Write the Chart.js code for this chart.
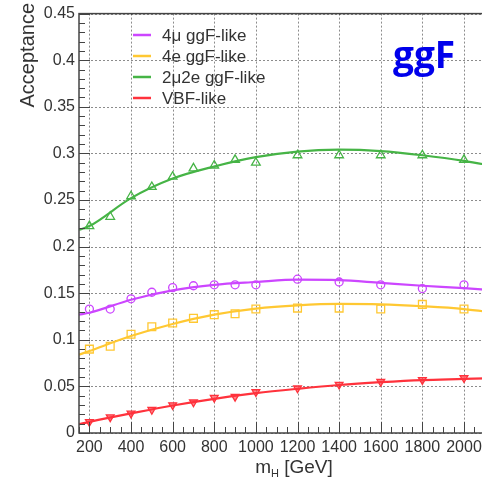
<!DOCTYPE html>
<html>
<head>
<meta charset="utf-8">
<script src="https://cdn.jsdelivr.net/npm/chart.js@4.4.1/dist/chart.umd.min.js"></script>
<style>
  html, body { margin: 0; padding: 0; background: #fff; overflow: hidden; }
  #wrap { position: relative; width: 482px; height: 479px; overflow: hidden; }
  #wrap canvas { position: absolute; left: 0; top: 0; }
</style>
</head>
<body>
<div id="wrap"><canvas id="acceptance-chart" width="502" height="479"></canvas></div>
<script>
// Masas simuladas (GeV) y aceptancia de cada canal
const masas = [200, 300, 400, 500, 600, 700, 800, 900, 1000, 1200, 1400, 1600, 1800, 2000];
const acc4mu = [0.133, 0.133, 0.144, 0.151, 0.156, 0.158, 0.159, 0.159, 0.159, 0.165, 0.162, 0.159, 0.155, 0.159];
const acc4e = [0.090, 0.093, 0.106, 0.114, 0.118, 0.123, 0.127, 0.128, 0.133, 0.134, 0.134, 0.133, 0.138, 0.133];
const acc2mu2e = [0.222, 0.232, 0.254, 0.264, 0.275, 0.284, 0.287, 0.293, 0.290, 0.298, 0.298, 0.298, 0.298, 0.293];
const accVBF = [0.012, 0.017, 0.021, 0.025, 0.030, 0.033, 0.038, 0.039, 0.044, 0.048, 0.052, 0.055, 0.057, 0.059];

// Curvas de ajuste
const masasAjuste = [150, 200, 400, 600, 800, 1000, 1200, 1400, 1600, 1800, 2000, 2150];
const ajuste4mu = [0.127, 0.129, 0.143, 0.153, 0.159, 0.162, 0.1645, 0.164, 0.161, 0.158, 0.1555, 0.153];
const ajuste4e = [0.084, 0.088, 0.104, 0.117, 0.127, 0.1335, 0.137, 0.1385, 0.138, 0.136, 0.133, 0.129];
const ajuste2mu2e = [0.218, 0.222, 0.252, 0.273, 0.286, 0.296, 0.302, 0.304, 0.3025, 0.298, 0.292, 0.286];
const ajusteVBF = [0.0095, 0.012, 0.021, 0.0295, 0.0367, 0.0427, 0.0474, 0.0515, 0.0545, 0.0568, 0.058, 0.059];

// Marcas de los ejes
const xTicks = [200, 400, 600, 800, 1000, 1200, 1400, 1600, 1800, 2000];
const yTicks = [0, 0.05, 0.1, 0.15, 0.2, 0.25, 0.3, 0.35, 0.4, 0.45];

const etiquetas = ["4μ ggF-like", "4e ggF-like", "2μ2e ggF-like", "VBF-like"];

const FUENTE = "'Liberation Sans', Arial, Helvetica, sans-serif";
const TEXTO = "#333";

const canales = [
  { label: etiquetas[0], color: "rgb(204,70,255)", puntos: acc4mu, ajuste: ajuste4mu, marker: "circle", rot: 0, fill: "rgba(0,0,0,0)", r: 4 },
  { label: etiquetas[1], color: "rgb(255,200,50)", puntos: acc4e, ajuste: ajuste4e, marker: "rect", rot: 0, fill: "rgba(0,0,0,0)", r: 5.5 },
  { label: etiquetas[2], color: "rgb(70,180,70)", puntos: acc2mu2e, ajuste: ajuste2mu2e, marker: "triangle", rot: 0, fill: "rgba(0,0,0,0)", r: 5 },
  { label: etiquetas[3], color: "rgb(255,50,60)", puntos: accVBF, ajuste: ajusteVBF, marker: "triangle", rot: 180, fill: "rgba(255,50,60,0.6)", r: 4.5 },
];

const toXY = (xs, ys) => xs.map((x, i) => ({ x, y: ys[i] }));

const datasets = canales.flatMap((c) => [
  {
    label: c.label,
    data: toXY(masas, c.puntos),
    showLine: false,
    pointStyle: c.marker,
    rotation: c.rot,
    pointRadius: c.r,
    pointBorderWidth: 1.3,
    borderColor: c.color,
    backgroundColor: c.fill,
  },
  {
    label: c.label,
    esAjuste: true,
    data: toXY(masasAjuste, c.ajuste),
    showLine: true,
    pointRadius: 0,
    borderColor: c.color,
    borderWidth: 2.2,
    cubicInterpolationMode: "monotone",
    fill: false,
  },
]);

/**
 * Rejilla punteada en las marcas principales
 */
const rejilla = {
  id: "rejilla",
  beforeDatasetsDraw(chart) {
    const { ctx, chartArea: a, scales } = chart;
    ctx.save();
    ctx.strokeStyle = "rgba(0,0,0,0.45)";
    ctx.lineWidth = 1;
    ctx.setLineDash([2, 2]);
    ctx.beginPath();
    xTicks.forEach((v) => {
      const px = Math.round(scales.x.getPixelForValue(v)) + 0.5;
      ctx.moveTo(px, a.top);
      ctx.lineTo(px, a.bottom);
    });
    yTicks.forEach((v) => {
      const py = Math.round(scales.y.getPixelForValue(v)) + 0.5;
      ctx.moveTo(a.left, py);
      ctx.lineTo(a.right, py);
    });
    ctx.stroke();
    ctx.restore();
  },
};

/**
 * Marco, marcas menores hacia dentro, leyenda y títulos al estilo ROOT
 */
const estiloRoot = {
  id: "estiloRoot",
  afterDraw(chart) {
    const { ctx, chartArea: a, scales } = chart;
    const sx = scales.x;
    const sy = scales.y;
    ctx.save();

    // Marcas de los ejes (hacia dentro)
    ctx.strokeStyle = "#444";
    ctx.lineWidth = 1;
    ctx.beginPath();
    for (let v = 150; v <= 2150; v += 50) {
      const px = Math.round(sx.getPixelForValue(v)) + 0.5;
      const len = v % 200 === 0 ? 11 : 6;
      ctx.moveTo(px, a.bottom);
      ctx.lineTo(px, a.bottom - len);
    }
    for (let i = 0; i <= 45; i++) {
      const py = Math.round(sy.getPixelForValue(i / 100)) + 0.5;
      const len = i % 5 === 0 ? 11 : 6;
      ctx.moveTo(a.left, py);
      ctx.lineTo(a.left + len, py);
    }
    ctx.stroke();

    // Marco
    ctx.lineWidth = 1.5;
    ctx.strokeStyle = "#444";
    ctx.strokeRect(a.left, a.top, a.right - a.left, a.bottom - a.top);

    // Leyenda
    const filas = [35, 56, 77, 98];
    chart.data.datasets
      .filter((d) => d.esAjuste)
      .forEach((d, i) => {
        ctx.strokeStyle = d.borderColor;
        ctx.lineWidth = 2.5;
        ctx.beginPath();
        ctx.moveTo(133, filas[i]);
        ctx.lineTo(151, filas[i]);
        ctx.stroke();
        ctx.fillStyle = TEXTO;
        ctx.font = `17px ${FUENTE}`;
        ctx.textAlign = "left";
        ctx.textBaseline = "middle";
        ctx.fillText(d.label, 162, filas[i] + 1);
      });

    // Título del eje Y
    ctx.save();
    ctx.translate(28, 3);
    ctx.rotate(-Math.PI / 2);
    ctx.fillStyle = TEXTO;
    ctx.font = `20px ${FUENTE}`;
    ctx.textAlign = "right";
    ctx.textBaseline = "middle";
    ctx.fillText("Acceptance", 0, 0);
    ctx.restore();

    // Título del eje X: m_H [GeV]
    ctx.fillStyle = TEXTO;
    ctx.textAlign = "left";
    ctx.textBaseline = "alphabetic";
    const base = 473;
    ctx.font = `19px ${FUENTE}`;
    const wm = ctx.measureText("m").width;
    const resto = " [GeV]";
    const wr = ctx.measureText(resto).width;
    ctx.font = `11px ${FUENTE}`;
    const wh = ctx.measureText("H").width;
    const x0 = 294 - (wm + wh + wr) / 2;
    ctx.font = `19px ${FUENTE}`;
    ctx.fillText("m", x0, base);
    ctx.font = `11px ${FUENTE}`;
    ctx.fillText("H", x0 + wm, base + 4);
    ctx.font = `19px ${FUENTE}`;
    ctx.fillText(resto, x0 + wm + wh, base);

    // Etiqueta del proceso
    ctx.fillStyle = "rgb(0,0,235)";
    ctx.font = `bold 37px 'Open Sans', Lato, sans-serif`;
    ctx.textAlign = "left";
    ctx.fillText("ggF", 393, 68);

    ctx.restore();
  },
};

const chart = new Chart(document.getElementById("acceptance-chart"), {
  type: "scatter",
  data: { datasets },
  plugins: [rejilla, estiloRoot],
  options: {
    responsive: false,
    animation: false,
    layout: { padding: { top: 8, right: 1, left: 0, bottom: 0 } },
    plugins: { legend: { display: false }, tooltip: { enabled: false } },
    scales: {
      x: {
        type: "linear",
        min: 150,
        max: 2150,
        afterBuildTicks: (s) => (s.ticks = xTicks.map((v) => ({ value: v }))),
        afterFit: (s) => (s.height = 46),
        ticks: {
          autoSkip: false,
          maxRotation: 0,
          padding: 5,
          color: TEXTO,
          font: { family: FUENTE, size: 16 },
          callback: (v) => String(v),
        },
        grid: { display: false, drawTicks: false },
        border: { display: false },
      },
      y: {
        type: "linear",
        min: 0,
        max: 0.45,
        afterBuildTicks: (s) => (s.ticks = yTicks.map((v) => ({ value: v }))),
        afterFit: (s) => (s.width = 79),
        ticks: {
          padding: 4,
          color: TEXTO,
          font: { family: FUENTE, size: 16 },
          callback: (v) => String(parseFloat(v.toFixed(2))),
        },
        grid: { display: false, drawTicks: false },
        border: { display: false },
      },
    },
  },
});
</script>
</body>
</html>
